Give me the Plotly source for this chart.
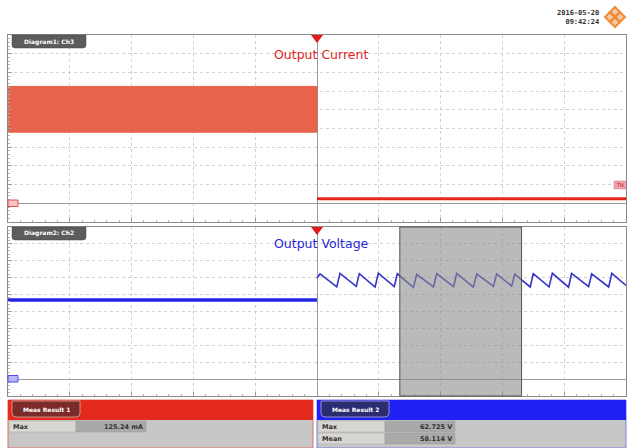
import plotly.graph_objects as go

W, H = 629, 448

# ---------------- data ----------------
# Diagram 1 (Ch3) – output current, mA ; time in ms (10 ms/div, trigger at 0)
band_t = [-50.0, 0.0]
band_hi = [125.0, 125.0]
band_lo = [76.0, 76.0]
cur_after_t = [0.0, 50.0]
cur_after_i = [5.0, 5.0]

# Diagram 2 (Ch2) – output voltage, V
volt_before_t = [-50.0, 0.0]
volt_before_v = [46.8, 46.8]
saw_t = [0.0, 0.49, 3.20, 3.72, 6.35, 6.85, 9.40, 9.92, 12.50, 13.00, 15.60, 16.13,
         18.85, 19.37, 22.10, 22.60, 25.30, 25.84, 28.55, 29.07, 31.50, 32.00,
         34.50, 35.00, 37.55, 38.08, 40.70, 41.20, 43.95, 44.45, 47.20, 47.70, 50.0]
saw_v = [59.8, 62.2, 54.6, 62.6, 54.9, 62.4, 54.5, 62.7, 54.8, 62.3, 54.3, 62.0,
         54.6, 62.4, 54.7, 62.5, 54.4, 62.2, 54.8, 62.3, 55.0, 62.1,
         54.5, 62.4, 54.6, 62.6, 54.4, 62.5, 54.7, 62.3, 54.5, 62.6, 55.4]
gate_t = [13.4, 33.1]

meas1_names = ["Max"]
meas1_values = ["125.24 mA"]
meas2_names = ["Max", "Mean"]
meas2_values = ["62.725 V", "58.114 V"]

# ---------------- helpers ----------------
def px(x):
    return x / W

def py(y):
    return 1 - y / H

def note(x, y, text, size, color, xanchor="center", family="DejaVu Sans", **kw):
    return dict(xref="paper", yref="paper", x=px(x), y=py(y), text=text, showarrow=False,
                xanchor=xanchor, yanchor="middle",
                font=dict(size=size, color=color, family=family), **kw)

RED_BAND = "#e8634c"
RED = "#e3261b"
BLUE = "#2424e6"

fig = go.Figure()

fig.add_trace(go.Scatter(
    x=band_t + band_t[::-1], y=band_hi + band_lo[::-1],
    fill="toself", fillcolor=RED_BAND, mode="lines",
    line=dict(color=RED_BAND, width=1), xaxis="x", yaxis="y", hoverinfo="skip"))
fig.add_trace(go.Scatter(
    x=cur_after_t, y=cur_after_i, mode="lines",
    line=dict(color=RED, width=3), xaxis="x", yaxis="y", hoverinfo="skip"))

fig.add_trace(go.Scatter(
    x=volt_before_t, y=volt_before_v, mode="lines",
    line=dict(color=BLUE, width=3.5), xaxis="x2", yaxis="y2", hoverinfo="skip"))
fig.add_trace(go.Scatter(
    x=saw_t, y=saw_v, mode="lines",
    line=dict(color="#3434c8", width=1.6), xaxis="x2", yaxis="y2", hoverinfo="skip"))

axis_common = dict(
    showticklabels=False, showgrid=True, gridcolor="#d2d2d2", griddash="dot",
    gridwidth=1, showline=True, linecolor="#8a8a8a", linewidth=1, mirror=True,
    ticks="inside", ticklen=4, tickcolor="#9a9a9a",
    zeroline=True, zerolinecolor="#9a9a9a", zerolinewidth=1, fixedrange=True,
)

xdom = [px(8), px(626)]
fig.update_layout(
    width=W, height=H, margin=dict(l=0, r=0, t=0, b=0),
    paper_bgcolor="white", plot_bgcolor="white", showlegend=False,
    xaxis=dict(domain=xdom, range=[-50, 50], dtick=10, anchor="y",
               minor=dict(ticks="inside", ticklen=2, dtick=2, tickcolor="#b0b0b0", showgrid=False),
               **axis_common),
    yaxis=dict(domain=[py(222), py(35)], range=[-20, 180], dtick=20, anchor="x",
               minor=dict(ticks="inside", ticklen=2, dtick=4, tickcolor="#b0b0b0", showgrid=False),
               **axis_common),
    xaxis2=dict(domain=xdom, range=[-50, 50], dtick=10, anchor="y2",
                minor=dict(ticks="inside", ticklen=2, dtick=2, tickcolor="#b0b0b0", showgrid=False),
                **axis_common),
    yaxis2=dict(domain=[py(396), py(227)], range=[-10, 90], dtick=10, anchor="x2",
                minor=dict(ticks="inside", ticklen=2, dtick=2, tickcolor="#b0b0b0", showgrid=False),
                **axis_common),
)

shapes = []
annotations = []

# gate region
shapes.append(dict(type="rect", xref="x2", yref="paper", x0=gate_t[0], x1=gate_t[1],
                   y0=py(396), y1=py(227), fillcolor="rgba(140,140,140,0.6)",
                   line=dict(color="#555555", width=1), layer="above"))

# trigger markers
for ytop in (35, 227):
    shapes.append(dict(type="path", xref="paper", yref="paper",
                       path=f"M {px(311)},{py(ytop)} L {px(323)},{py(ytop)} L {px(317)},{py(ytop+8)} Z",
                       fillcolor="#e01a1a", line=dict(width=0)))

# zero markers
shapes.append(dict(type="rect", xref="paper", yref="paper", x0=px(8), x1=px(18),
                   y0=py(206.5), y1=py(200), fillcolor="#f6c4c4", line=dict(color="#e05050", width=1)))
shapes.append(dict(type="rect", xref="paper", yref="paper", x0=px(8), x1=px(18),
                   y0=py(382), y1=py(375.5), fillcolor="#b8b8f4", line=dict(color="#5050e0", width=1)))
# trigger level marker
shapes.append(dict(type="rect", xref="paper", yref="paper", x0=px(614), x1=px(626),
                   y0=py(189), y1=py(181), fillcolor="#f0a3ae", line=dict(color="#e07080", width=0.5)))
annotations.append(note(620, 185, "TN", 5, "#c02020"))

# diagram tabs
for ytop, label in ((35, "Diagram1: Ch3"), (227, "Diagram2: Ch2")):
    shapes.append(dict(type="path", xref="paper", yref="paper",
                       path=(f"M {px(12)},{py(ytop)} L {px(86)},{py(ytop)} L {px(86)},{py(ytop+10)} "
                             f"Q {px(86)},{py(ytop+13)} {px(83)},{py(ytop+13)} L {px(15)},{py(ytop+13)} "
                             f"Q {px(12)},{py(ytop+13)} {px(12)},{py(ytop+10)} Z"),
                       fillcolor="#5c5c5c", line=dict(color="#444444", width=0.5)))
    annotations.append(note(49, ytop + 6.5, f"<b>{label}</b>", 6, "white"))

# titles
annotations.append(note(321, 55, "Output Current", 12.5, "#e0261e"))
annotations.append(note(321, 243, "Output Voltage", 12.5, "#2626d8"))

# date / time
annotations.append(note(601, 17, "<b>2016-05-20</b><br><b>09:42:24</b>", 7, "#333333",
                        xanchor="right", family="DejaVu Sans Mono", align="right"))
# logo (R&S diamond)
cx, cy, r = 615, 17, 10
shapes.append(dict(type="path", xref="paper", yref="paper",
                   path=f"M {px(cx)},{py(cy-r)} L {px(cx+r)},{py(cy)} L {px(cx)},{py(cy+r)} L {px(cx-r)},{py(cy)} Z",
                   fillcolor="#f7c9a0", line=dict(color="#ef8a3a", width=2)))
shapes.append(dict(type="path", xref="paper", yref="paper",
                   path=f"M {px(cx-5)},{py(cy-5)} L {px(cx+5)},{py(cy+5)} M {px(cx+5)},{py(cy-5)} L {px(cx-5)},{py(cy+5)}",
                   line=dict(color="#ef8a3a", width=2.5)))

# measurement panels
def meas_panel(x0, x1, head_col, tab_col, edge_col, title, names, values):
    shapes.append(dict(type="rect", xref="paper", yref="paper", x0=px(x0), x1=px(x1),
                       y0=py(448), y1=py(400), fillcolor="#c7c7c7", line=dict(color=edge_col, width=1)))
    shapes.append(dict(type="rect", xref="paper", yref="paper", x0=px(x0), x1=px(x1),
                       y0=py(420), y1=py(400), fillcolor=head_col, line=dict(width=0)))
    tx0, tx1 = x0 + 4, x0 + 72
    shapes.append(dict(type="path", xref="paper", yref="paper",
                       path=(f"M {px(tx0)},{py(401)} L {px(tx1)},{py(401)} L {px(tx1)},{py(413)} "
                             f"Q {px(tx1)},{py(417)} {px(tx1-4)},{py(417)} L {px(tx0+4)},{py(417)} "
                             f"Q {px(tx0)},{py(417)} {px(tx0)},{py(413)} Z"),
                       fillcolor=tab_col, line=dict(color="#dddddd", width=0.6)))
    annotations.append(note((tx0 + tx1) / 2, 409, f"<b>{title}</b>", 6, "white"))
    for i, (n, v) in enumerate(zip(names, values)):
        ya, yb = 421 + 12 * i, 432 + 12 * i
        shapes.append(dict(type="rect", xref="paper", yref="paper", x0=px(x0 + 1), x1=px(x0 + 68),
                           y0=py(yb), y1=py(ya), fillcolor="#d8d6d0", line=dict(color="#aaaaaa", width=0.5)))
        shapes.append(dict(type="rect", xref="paper", yref="paper", x0=px(x0 + 68), x1=px(x0 + 138),
                           y0=py(yb), y1=py(ya), fillcolor="#a9a9a9", line=dict(color="#999999", width=0.5)))
        annotations.append(note(x0 + 3, (ya + yb) / 2, f"<b>{n}</b>", 6.5, "#333333", xanchor="left"))
        annotations.append(note(x0 + 137, (ya + yb) / 2, f"<b>{v}</b>", 6.5, "#333333", xanchor="right"))

meas_panel(8, 313, "#e42a1c", "#7c2c28", "#e06a6a", "Meas Result 1", meas1_names, meas1_values)
meas_panel(317, 626, "#2020f4", "#2c2c70", "#8080e0", "Meas Result 2", meas2_names, meas2_values)

fig.update_layout(shapes=shapes, annotations=annotations)
fig.write_html("out.html", config={"displayModeBar": False},
               post_script="document.body.style.margin='0';document.body.style.overflow='hidden';")
